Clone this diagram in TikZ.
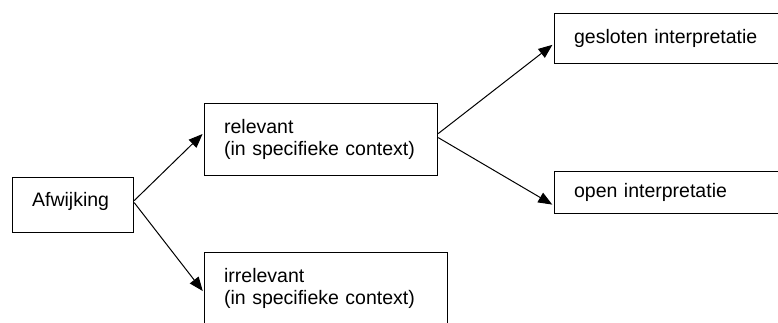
\documentclass[tikz,border=0pt]{standalone}
\usepackage{fontspec}
\setmainfont{Liberation Sans}
\usetikzlibrary{arrows.meta}

\begin{document}
\begin{tikzpicture}[x=1pt, y=-1pt,
        box/.style={draw, line width=1.2pt, anchor=north west, align=left, inner xsep=19.5pt, inner ysep=0pt, font=\fontsize{19.5}{21.6}\selectfont},
        pijl/.style={-{Triangle[length=14pt, width=11pt]}, line width=1pt, shorten >=2pt}]
        \useasboundingbox (0, 0) rectangle (778, 322);
        \clip (0, 0) rectangle (778, 322);

        \node[box, text width=82pt, minimum height=55pt, text depth=11pt] (afw) at (12, 177) {Afwijking};
        \node[box, text width=194pt, minimum height=72pt] (rel) at (204, 103) {relevant\\(in specifieke context)};
        \node[box, text width=204pt, minimum height=72pt] (irr) at (204, 252) {irrelevant\\(in specifieke context)};
        \node[box, text width=208pt, minimum height=50pt] (ges) at (554, 13) {gesloten interpretatie};
        \node[box, text width=208pt, minimum height=42pt] (opn) at (554, 171) {open interpretatie};

        \foreach \a/\sa/\b/\sb in {afw/4.5/rel/7, afw/2.5/irr/-4, rel/6/ges/-5, rel/2/opn/-13}
            \draw[pijl] ([yshift=\sa pt]\a.east) -- ([yshift=\sb pt]\b.west);
    \end{tikzpicture}
\end{document}
